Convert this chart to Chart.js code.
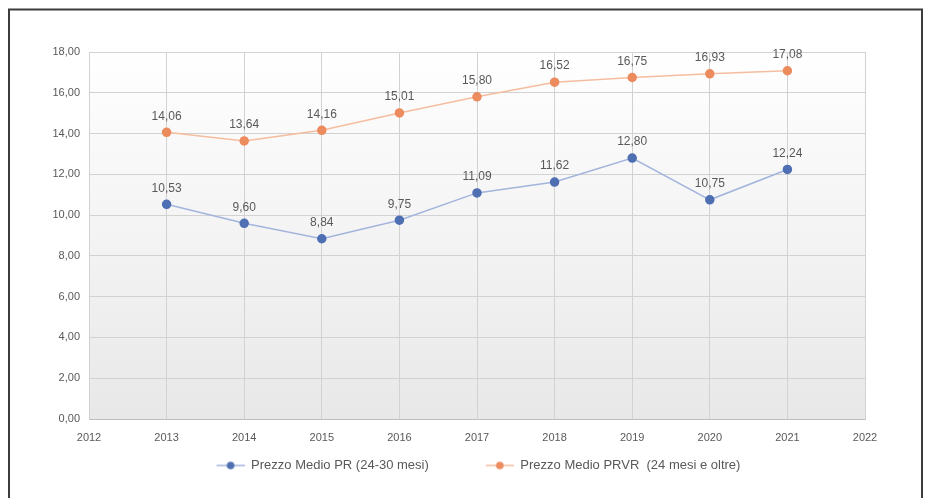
<!DOCTYPE html>
<html>
<head>
<meta charset="utf-8">
<script src="https://cdn.jsdelivr.net/npm/chart.js@4.4.0/dist/chart.umd.min.js"></script>
<style>
  html, body { margin: 0; padding: 0; background: #fff; }
  #wrap { width: 928px; height: 498px; position: relative; }
</style>
</head>
<body>
<div id="wrap"><canvas id="priceChart" width="928" height="498"></canvas></div>
<script>
// data
const years = [2013, 2014, 2015, 2016, 2017, 2018, 2019, 2020, 2021];
const prezzoPR = [10.53, 9.60, 8.84, 9.75, 11.09, 11.62, 12.80, 10.75, 12.24];
const prezzoPRVR = [14.06, 13.64, 14.16, 15.01, 15.80, 16.52, 16.75, 16.93, 17.08];
const labelPR = "Prezzo Medio PR (24-30 mesi)";
const labelPRVR = "Prezzo Medio PRVR  (24 mesi e oltre)";
const yTicks = [0, 2, 4, 6, 8, 10, 12, 14, 16, 18];

const FONT = "'Liberation Sans', sans-serif";
const fmt = v => v.toFixed(2).replace(".", ",");

// legend icon: line with a dot, transparent room on the left acts as the gap
function legendIcon(lineColor, dotColor) {
    const c = document.createElement("canvas");
    c.width = 75; c.height = 10;
    const g = c.getContext("2d");
    g.strokeStyle = lineColor;
    g.lineWidth = 1.5;
    g.beginPath(); g.moveTo(47, 5); g.lineTo(75, 5); g.stroke();
    g.fillStyle = dotColor;
    g.beginPath(); g.arc(61, 5, 3.8, 0, Math.PI * 2); g.fill();
    return c;
}

// frame + plot background
const framePlugin = {
    id: "frame",
    beforeDraw(chart) {
        const { ctx, chartArea: a } = chart;
        ctx.save();
        const grad = ctx.createLinearGradient(0, a.top, 0, a.bottom);
        grad.addColorStop(0, "#ffffff");
        grad.addColorStop(1, "#e8e8e8");
        ctx.fillStyle = grad;
        ctx.fillRect(a.left, a.top, a.right - a.left, a.bottom - a.top);
        ctx.restore();
    },
    afterDraw(chart) {
        const ctx = chart.ctx;
        ctx.save();
        ctx.strokeStyle = "#3c3c3c";
        ctx.lineWidth = 2;
        ctx.strokeRect(9, 9.5, 913, 500);
        ctx.restore();
    }
};

// value labels above each point
const valueLabels = {
    id: "valueLabels",
    afterDatasetsDraw(chart) {
        const ctx = chart.ctx;
        ctx.save();
        ctx.font = "12px " + FONT;
        ctx.fillStyle = "#595959";
        ctx.textAlign = "center";
        ctx.textBaseline = "bottom";
        chart.data.datasets.forEach((ds, i) => {
            chart.getDatasetMeta(i).data.forEach((pt, j) => {
                ctx.fillText(fmt(ds.data[j].y), pt.x, pt.y - 10);
            });
        });
        ctx.restore();
    }
};

const ctx = document.getElementById("priceChart").getContext("2d");
new Chart(ctx, {
    type: "line",
    data: {
        datasets: [
            {
                label: labelPR,
                data: years.map((y, i) => ({ x: y, y: prezzoPR[i] })),
                borderColor: "#a3b5dd",
                backgroundColor: "#4f6fb3",
                pointBackgroundColor: "#4f6fb3",
                pointBorderColor: "#4f6fb3",
                borderWidth: 1.5,
                pointRadius: 4,
                tension: 0
            },
            {
                label: labelPRVR,
                data: years.map((y, i) => ({ x: y, y: prezzoPRVR[i] })),
                borderColor: "#f5bda0",
                backgroundColor: "#ec8b5e",
                pointBackgroundColor: "#ec8b5e",
                pointBorderColor: "#ec8b5e",
                borderWidth: 1.5,
                pointRadius: 4,
                tension: 0
            }
        ]
    },
    options: {
        responsive: false,
        animation: false,
        layout: { padding: { left: 45, top: 52, right: 63, bottom: 16 } },
        plugins: {
            tooltip: { enabled: false },
            legend: {
                position: "bottom",
                labels: {
                    font: { family: FONT, size: 13 },
                    color: "#595959",
                    usePointStyle: true,
                    pointStyleWidth: 75,
                    boxHeight: 10,
                    padding: 10,
                    generateLabels(chart) {
                        return [
                            { text: labelPR, pointStyle: legendIcon("#a3b5dd", "#4f6fb3"), fontColor: "#595959", lineWidth: 0, datasetIndex: 0 },
                            { text: labelPRVR, pointStyle: legendIcon("#f5bda0", "#ec8b5e"), fontColor: "#595959", lineWidth: 0, datasetIndex: 1 }
                        ];
                    }
                }
            }
        },
        scales: {
            x: {
                type: "linear",
                min: 2012,
                max: 2022,
                ticks: {
                    stepSize: 1,
                    color: "#595959",
                    font: { family: FONT, size: 11 },
                    padding: 12,
                    callback: v => String(v)
                },
                grid: { color: "#d2d2d2", drawTicks: false },
                border: { color: "#bfbfbf" },
                afterFit(scale) { scale.height = 30; }
            },
            y: {
                min: 0,
                max: 18,
                afterBuildTicks(scale) { scale.ticks = yTicks.map(v => ({ value: v })); },
                ticks: {
                    color: "#595959",
                    font: { family: FONT, size: 11 },
                    padding: 9,
                    callback: v => fmt(v)
                },
                grid: { color: "#d2d2d2", drawTicks: false },
                border: { color: "#d2d2d2" },
                afterFit(scale) { scale.width = 44; }
            }
        }
    },
    plugins: [framePlugin, valueLabels]
});
</script>
</body>
</html>
